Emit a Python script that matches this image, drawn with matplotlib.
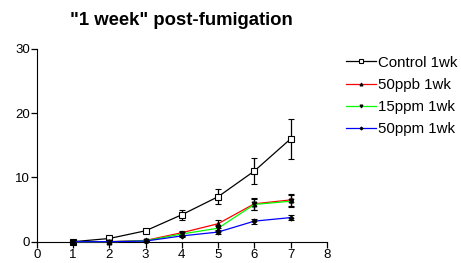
import numpy as np
import matplotlib.pyplot as plt

plt.rcParams['font.family'] = ['Liberation Sans', 'DejaVu Sans']

days = [1, 2, 3, 4, 5, 6, 7]

control = [0, 0.5, 1.7, 4.2, 7.0, 11.0, 16.0]
control_err = [0.1, 0.15, 0.3, 0.75, 1.2, 2.0, 3.1]
ppb50 = [0, 0, 0.2, 1.4, 2.8, 5.9, 6.5]
ppb50_err = [0, 0, 0.1, 0.3, 0.6, 0.9, 0.9]
ppm15 = [0, 0, 0.15, 1.2, 2.1, 5.8, 6.3]
ppm15_err = [0, 0, 0.1, 0.3, 0.5, 0.9, 0.9]
ppm50 = [0, 0, 0.1, 0.9, 1.5, 3.2, 3.75]
ppm50_err = [0, 0, 0.05, 0.2, 0.3, 0.4, 0.35]

series = [
    ("Control 1wk", control, control_err, "black", "s", "white", 4),
    ("50ppb 1wk", ppb50, ppb50_err, "red", "^", "black", 3.5),
    ("15ppm 1wk", ppm15, ppm15_err, "#00ff00", "v", "black", 3.5),
    ("50ppm 1wk", ppm50, ppm50_err, "blue", "D", "black", 2.5),
]

fig = plt.figure(figsize=(4.61, 2.63), dpi=100)
ax = fig.add_axes([0.080, 0.081, 0.629, 0.733])

for label, y, err, col, mk, fc, ms in series:
    ax.errorbar(days, y, yerr=err, color=col, lw=0.9, marker=mk, ms=ms,
                mfc=fc, mec="black", mew=0.8, ecolor="black", elinewidth=0.9,
                capsize=2.5, capthick=0.9, label=label, clip_on=False, zorder=3)

ax.set_xlim(0, 8)
ax.set_ylim(0, 30)
ax.set_xticks(range(0, 9))
ax.set_yticks([0, 10, 20, 30])
ax.spines['top'].set_visible(False)
ax.spines['right'].set_visible(False)
ax.tick_params(labelsize=9.5, length=4, width=0.9, pad=1)
ax.set_title('"1 week" post-fumigation', fontsize=13.3, fontweight='bold', pad=17)

handles, labels = ax.get_legend_handles_labels()
handles = [h[0] for h in handles]
ax.legend(handles, labels, loc='upper left', bbox_to_anchor=(1.03, 1.02),
          frameon=False, fontsize=10.8, handlelength=2.0, handletextpad=0.15,
          labelspacing=0.55, markerscale=0.6, borderaxespad=0.3)

fig.savefig("out.png", dpi=100)
